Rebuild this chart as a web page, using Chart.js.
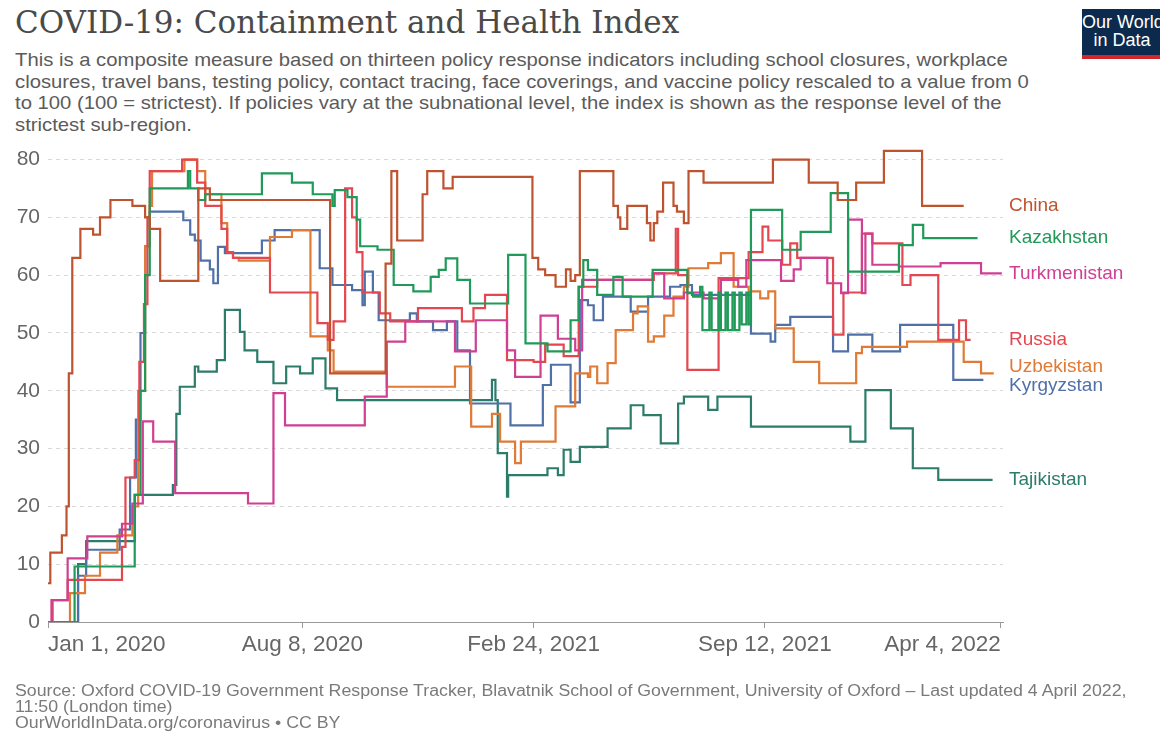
<!DOCTYPE html>
<html>
<head>
<meta charset="utf-8">
<script src="https://cdn.jsdelivr.net/npm/chart.js@4.4.1/dist/chart.umd.min.js"></script>
<style>
  body { margin: 0; background: #fff; width: 1160px; height: 733px; overflow: hidden; position: relative;
         font-family: "Liberation Sans", Arial, sans-serif; }
  #title { position: absolute; left: 15px; top: 4px; font-family: "DejaVu Serif", serif; font-size: 31px; color: #4a4a4a; white-space: nowrap; }
  #subtitle { position: absolute; left: 15px; top: 49px; font-size: 19px; line-height: 21.5px; color: #5b5b5b; white-space: nowrap;
              transform: scaleX(1.067); transform-origin: left top; }
  #logo { position: absolute; left: 1082px; top: 9px; width: 80px; height: 42px; background: #0c2a4d; border-bottom: 4px solid #d0262c;
          color: #fff; font-size: 18px; line-height: 18px; text-align: center; padding-top: 4px; white-space: nowrap; }
  #footer { position: absolute; left: 15px; top: 683px; font-size: 16px; line-height: 16px; color: #7a7a7a; white-space: nowrap;
            transform: scaleX(1.109); transform-origin: left top; }
  #chart { position: absolute; left: 0; top: 0; }
</style>
</head>
<body>
<div id="title">COVID-19: Containment and Health Index</div>
<div id="subtitle">This is a composite measure based on thirteen policy response indicators including school closures, workplace<br>closures, travel bans, testing policy, contact tracing, face coverings, and vaccine policy rescaled to a value from 0<br>to 100 (100 = strictest). If policies vary at the subnational level, the index is shown as the response level of the<br>strictest sub-region.</div>
<div id="logo">Our World<br>in Data</div>
<canvas id="chart" width="1160" height="733"></canvas>
<div id="footer">Source: Oxford COVID-19 Government Response Tracker, Blavatnik School of Government, University of Oxford – Last updated 4 April 2022,<br>11:50 (London time)<br>OurWorldInData.org/coronavirus • CC BY</div>
<script>
// x values are days since Jan 1, 2020
const tickDays = [0, 220, 420, 620, 824];
const tickLabels = ['Jan 1, 2020', 'Aug 8, 2020', 'Feb 24, 2021', 'Sep 12, 2021', 'Apr 4, 2022'];
const yTicks = [0, 10, 20, 30, 40, 50, 60, 70, 80];

const countries = ['China', 'Kazakhstan', 'Turkmenistan', 'Russia', 'Uzbekistan', 'Kyrgyzstan', 'Tajikistan'];
const colors = ['#c0532f', '#1f9a58', '#cf3f92', '#e4474f', '#e07a35', '#5070a8', '#2c7c6a'];

const chinaDays = [0, 2, 12, 16, 18, 21, 28, 39, 45, 54, 73, 84, 88, 97, 130, 140, 244, 292, 297, 302, 324, 328, 342, 350, 419, 424, 430, 439, 448, 452, 456, 460, 489, 493, 495, 501, 518, 521, 524, 527, 532, 541, 544, 550, 554, 567, 627, 658, 683, 699, 723, 756, 792];
const chinaValues = [6.7, 12, 15, 20, 43, 63, 68, 67, 70, 73, 72, 70, 68, 59, 75, 73, 43, 62, 78, 66, 74, 78, 75, 77, 63, 61, 60, 58, 61, 59, 60, 78, 72, 70, 68, 72, 69, 66, 69, 71, 76, 72, 71, 69, 78, 76, 80, 76, 73, 76, 81.5, 72, 72];

const kazakhstanDays = [0, 23, 75, 80, 84, 88, 121, 123, 130, 136, 185, 211, 229, 246, 248, 259, 267, 270, 285, 299, 316, 331, 338, 344, 354, 365, 398, 413, 432, 452, 459, 463, 467, 475, 489, 497, 523, 553, 558, 564, 566, 572, 574, 580, 582, 586, 588, 592, 594, 598, 600, 604, 606, 608, 635, 651, 677, 692, 736, 748, 757, 804];
const kazakhstanValues = [0, 9.6, 22, 40, 60, 75, 78, 75, 73, 74, 77.6, 76, 74, 72, 74.7, 73.5, 69.6, 65, 64.4, 58.3, 57.2, 59.7, 60.9, 62.9, 59.2, 55.1, 63.5, 48.2, 46.8, 52.2, 58, 62.6, 60.9, 56.6, 59.7, 56.3, 60.9, 56.9, 56.3, 58, 50.5, 57, 50.5, 57, 50.5, 57, 50.5, 57, 50.5, 57, 51.5, 57, 51.5, 71.3, 64.4, 67.5, 74.2, 60.6, 65.2, 68.7, 66.4, 66.4];

const turkmenistanDays = [0, 3, 17, 34, 64, 73, 82, 91, 110, 173, 195, 205, 274, 293, 309, 352, 370, 397, 404, 426, 441, 456, 462, 523, 533, 550, 567, 582, 597, 604, 634, 645, 651, 674, 686, 692, 704, 707, 713, 736, 772, 807, 825];
const turkmenistanValues = [0, 3.8, 11, 14.8, 17, 20.5, 34.7, 31.2, 22.3, 20.5, 39.6, 34, 39, 48.5, 52, 46.8, 52.2, 47, 42.4, 53, 49, 47, 59.2, 60.3, 56, 57, 56, 59.2, 58, 62.6, 59, 61, 63, 58.6, 56.9, 69.6, 56.9, 67.2, 61.8, 61.5, 62.1, 60.3, 60.3];

const russiaDays = [0, 4, 17, 64, 67, 75, 79, 83, 86, 88, 116, 129, 136, 150, 155, 160, 192, 233, 242, 247, 257, 263, 267, 272, 287, 296, 320, 358, 368, 378, 397, 420, 430, 446, 459, 475, 524, 543, 545, 553, 580, 606, 618, 623, 635, 642, 648, 679, 688, 704, 713, 739, 746, 770, 788, 794, 798];
const russiaValues = [0, 3.8, 7.3, 13, 25, 28, 45, 55, 70, 78, 80, 76, 72, 68, 64, 63, 57, 51.7, 48.8, 52, 75, 70, 64, 57, 53.4, 52, 54.3, 52, 54.3, 56.6, 45.3, 45, 48, 46, 58, 59.2, 60.3, 68, 60, 43.6, 59.5, 64, 68.4, 66, 61.8, 65.5, 63, 49.7, 57, 67.2, 65.5, 58.3, 60, 48.8, 52.2, 48.8, 48.8];

const uzbekistanDays = [0, 19, 32, 45, 60, 73, 78, 84, 88, 90, 118, 129, 136, 150, 155, 160, 165, 192, 211, 227, 242, 247, 293, 352, 366, 384, 391, 404, 409, 439, 456, 467, 469, 475, 484, 491, 506, 510, 519, 524, 533, 541, 550, 554, 571, 582, 593, 606, 616, 623, 629, 645, 667, 699, 704, 743, 792, 807, 818];
const uzbekistanValues = [0, 5, 8, 12, 15, 20, 40, 65, 72, 78, 80, 78, 74, 69, 64, 63, 62.5, 66.6, 67.8, 49.4, 47, 43.3, 40.7, 44.2, 33.8, 36, 31.2, 27.5, 31.2, 37.3, 43, 42.4, 44.2, 41.3, 44.8, 50.5, 53.4, 54.6, 48.5, 49.4, 53, 56.3, 58, 61.2, 62.1, 63.8, 58, 57.2, 56, 57.2, 50.8, 45, 41.3, 46.5, 47.6, 48.5, 45, 43, 43];

const kyrgyzstanDays = [0, 26, 33, 62, 71, 76, 80, 84, 88, 117, 123, 127, 132, 140, 143, 147, 153, 185, 196, 235, 246, 263, 272, 274, 281, 286, 313, 319, 333, 345, 354, 365, 400, 428, 435, 452, 460, 467, 472, 480, 504, 519, 538, 547, 557, 608, 625, 629, 642, 679, 692, 713, 737, 783, 809];
const kyrgyzstanValues = [0, 8, 12.5, 16, 25, 35, 50, 65, 71, 69.5, 67, 66, 62.5, 61, 58.6, 64.9, 63.8, 66, 67.8, 61.2, 58.3, 57.4, 54.8, 60.6, 57, 52.2, 53.4, 52, 50.5, 52, 47, 37.8, 34, 41, 44.5, 38, 55.7, 54.8, 52.2, 56.3, 53.7, 56.3, 58, 58.3, 56.6, 49.9, 48.5, 51.4, 52.8, 46.8, 49.7, 46.8, 51.4, 41.9, 41.9];

const tajikistanDays = [0, 26, 33, 75, 108, 111, 114, 127, 130, 146, 153, 166, 170, 181, 195, 206, 218, 229, 240, 250, 384, 387, 389, 397, 398, 432, 441, 446, 452, 460, 484, 504, 515, 530, 545, 550, 571, 579, 608, 694, 707, 729, 748, 770, 817];
const tajikistanValues = [0, 10, 14, 22, 23.7, 36, 40.7, 44.2, 43.3, 45.3, 54, 50.2, 47, 45, 41.3, 44.2, 43, 45.6, 40.4, 38.4, 41.9, 38.4, 29.2, 21.7, 25.4, 26.6, 25.4, 29.8, 27.7, 30.3, 33.5, 37.5, 35.8, 30.9, 37.8, 39, 36.7, 39, 33.8, 31.2, 40.1, 33.5, 26.6, 24.6, 24.6];

const seriesDays = [chinaDays, kazakhstanDays, turkmenistanDays, russiaDays, uzbekistanDays, kyrgyzstanDays, tajikistanDays];
const seriesValues = [chinaValues, kazakhstanValues, turkmenistanValues, russiaValues, uzbekistanValues, kyrgyzstanValues, tajikistanValues];

const datasets = countries.map((name, i) => ({
    label: name,
    data: seriesDays[i].map((d, k) => ({ x: d, y: seriesValues[i][k] })),
    borderColor: colors[i],
    borderWidth: 2.2,
    stepped: true,
    pointRadius: 0,
    fill: false
}));

// country names at the end of each line, nudged apart when they collide
const endLabels = {
    id: 'endLabels',
    afterDatasetsDraw(chart) {
        const { ctx, chartArea, scales: { y } } = chart;
        const items = chart.data.datasets.map(ds => ({
            text: ds.label,
            color: ds.borderColor,
            y: y.getPixelForValue(ds.data[ds.data.length - 1].y)
        })).sort((a, b) => a.y - b.y);
        const gap = 19;
        for (let n = 0; n < 60; n++) {
            for (let k = 1; k < items.length; k++) {
                const overlap = gap - (items[k].y - items[k - 1].y);
                if (overlap > 0) {
                    items[k - 1].y -= overlap / 2;
                    items[k].y += overlap / 2;
                }
            }
        }
        ctx.save();
        ctx.font = '19px "Liberation Sans", Arial, sans-serif';
        ctx.textBaseline = 'middle';
        items.forEach(it => {
            ctx.fillStyle = it.color;
            ctx.fillText(it.text, chartArea.right + 6, it.y);
        });
        ctx.restore();
    }
};

const yFont = { family: '"Liberation Sans", Arial, sans-serif', size: 21 };
const xFont = { family: '"Liberation Sans", Arial, sans-serif', size: 22.5 };

new Chart(document.getElementById('chart'), {
    type: 'line',
    data: { datasets: datasets },
    options: {
        responsive: false,
        animation: false,
        layout: { padding: { top: 148, right: 157, bottom: 0, left: 0 } },
        plugins: { legend: { display: false }, tooltip: { enabled: false } },
        scales: {
            x: {
                type: 'linear',
                min: 0,
                max: 826,
                afterBuildTicks: s => { s.ticks = tickDays.map(v => ({ value: v })); },
                afterFit: s => { s.height = 111; },
                ticks: {
                    align: 'inner',
                    autoSkip: false,
                    maxRotation: 0,
                    padding: 3,
                    color: '#666',
                    font: xFont,
                    callback: v => tickLabels[tickDays.indexOf(v)]
                },
                grid: { drawOnChartArea: false, drawTicks: true, tickLength: 6, color: '#999' },
                border: { display: true, color: '#999', width: 1 }
            },
            y: {
                min: 0,
                max: 82,
                afterBuildTicks: s => { s.ticks = yTicks.map(v => ({ value: v })); },
                afterFit: s => { s.width = 48; },
                ticks: { padding: 8, color: '#666', font: yFont },
                grid: { color: '#d8d8d8', drawTicks: false },
                border: { display: false, dash: [4, 4] }
            }
        }
    },
    plugins: [endLabels]
});
</script>
</body>
</html>
